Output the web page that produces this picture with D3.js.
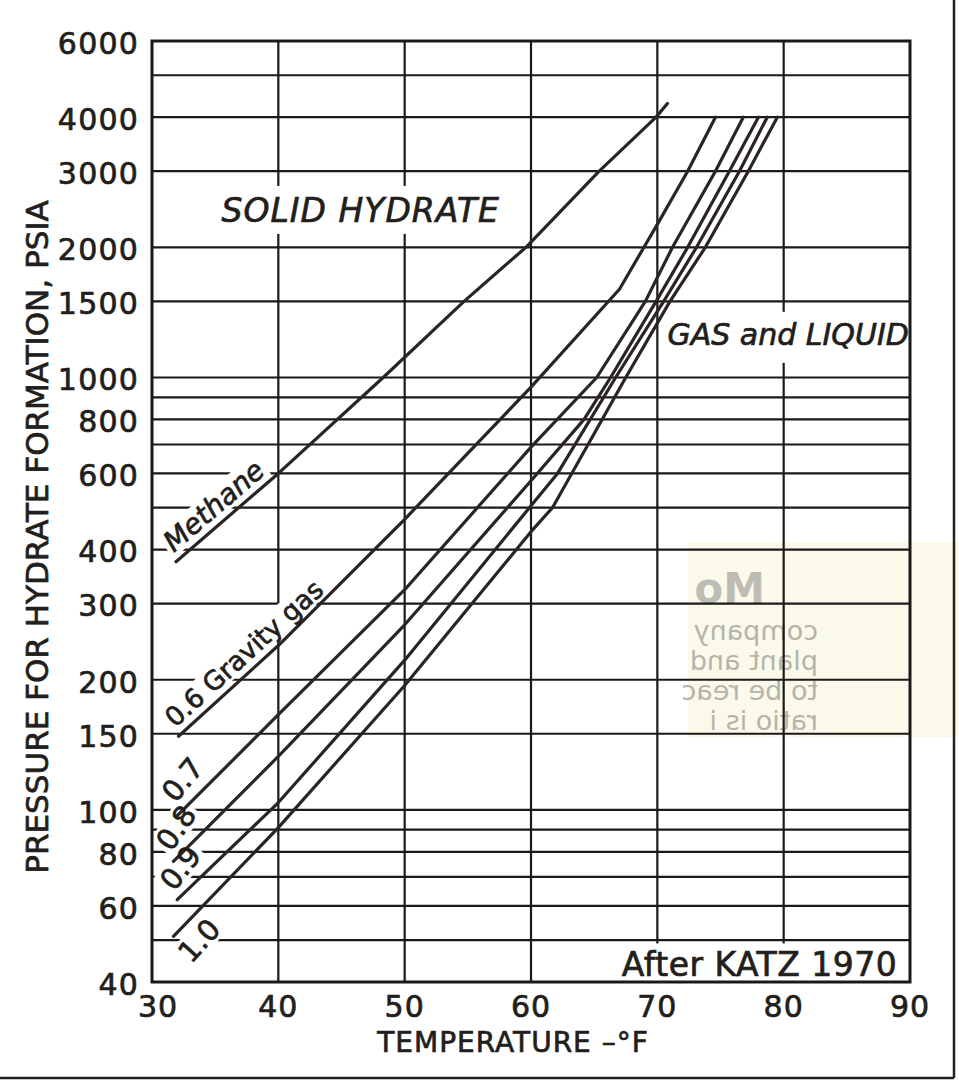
<!DOCTYPE html>
<html>
<head>
<meta charset="utf-8">
<script src="https://cdn.jsdelivr.net/npm/d3@7"></script>
<style>
  body { margin: 0; background: #fff; }
  svg { display: block; }
  text { font-family: "DejaVu Sans", sans-serif; fill: #221e1b; stroke: #221e1b; stroke-width: 0.7px; }
  text.bleed { stroke: none; }
</style>
</head>
<body>
<div id="chart"></div>
<script>
// axis ticks and grid
const tempTicks = [30, 40, 50, 60, 70, 80, 90];
const tempGrid = [40, 50, 60, 70, 80];
const pressTicks = [6000, 4000, 3000, 2000, 1500, 1000, 800, 600, 400, 300, 200, 150, 100, 80, 60, 40];
const pressGrid = [5000, 4000, 3000, 2000, 1500, 1000, 900, 800, 700, 600, 500, 400, 300, 200, 150, 100, 90, 80, 70, 60, 50];

// hydrate curves, [temperature F, pressure psia]
const methane = [[31.9, 375], [40, 600], [48.3, 1000], [54.7, 1500], [59.6, 2000], [65.4, 3000], [69.9, 4000], [70.8, 4300]];
const gas06 = [[32.1, 148], [40, 240], [50, 470], [60, 950], [67, 1600], [70, 2260], [72.4, 3000], [74.6, 4000]];
const gas07 = [[32, 97], [40, 166], [50, 323], [60, 690], [65.2, 1000], [69.05, 1500], [71.2, 2000], [74.6, 3000], [76.8, 4000]];
const gas08 = [[31.7, 76], [40, 133], [50, 268], [60, 577], [64.2, 800], [66.3, 1000], [69.9, 1500], [72.4, 2000], [75.7, 3000], [78, 4000]];
const gas09 = [[32, 62], [40, 104], [50, 222], [60, 505], [62.1, 600], [66.7, 1000], [70.5, 1500], [73.1, 2000], [76.5, 3000], [78.7, 4000]];
const gas10 = [[31.7, 51], [40, 91], [50, 194], [60, 440], [61.7, 500], [67.5, 1000], [71.0, 1500], [73.8, 2000], [77.2, 3000], [79.5, 4000]];

const curves = [methane, gas06, gas07, gas08, gas09, gas10];
const curveLabels = ["Methane", "0.6 Gravity gas", "0.7", "0.8", "0.9", "1.0"];

// region notes placed in data coords
const notes = [
  { text: "SOLID HYDRATE", t: 35.5, p: 2290, anchor: "start", italic: true },
  { text: "GAS and LIQUID", t: 70.8, p: 1190, anchor: "start", italic: true },
  { text: "After KATZ 1970", t: 89.0, p: 41.2, anchor: "end", italic: false }
];

// mirrored bleed-through from the back of the page
const bleedLines = ["company", "plant and", "to be reac", "ratio is i"];

const W = 959, H = 1082;
const svg = d3.select("#chart").append("svg").attr("width", W).attr("height", H);

const x = d3.scaleLinear().domain([30, 90]).range([152, 910]);
const y = d3.scaleLog().domain([40, 6000]).range([982, 41]);

// faint yellow patch + mirrored text showing through the paper
svg.append("rect").attr("x", 688).attr("y", 542).attr("width", 271).attr("height", 195).attr("fill", "#fbfaea");
svg.append("text").attr("class", "bleed").attr("transform", "translate(765,603) scale(-1,1)")
  .attr("font-family", "Liberation Serif, serif").attr("font-weight", "bold")
  .attr("font-size", 42).style("fill", "#bdbdb4").text("Mo");
svg.selectAll(".bline").data(bleedLines).enter().append("text")
  .attr("class", "bleed")
  .attr("transform", (d, i) => `translate(818,${640 + i * 30}) scale(-1,1)`)
  .attr("font-family", "Liberation Serif, serif")
  .attr("font-size", 27).style("fill", "#b4b4ab").text(d => d);

// grid
const grid = svg.append("g").attr("stroke", "#1c1a18").attr("stroke-width", 2.2);
grid.selectAll(".h").data(pressGrid).enter().append("line")
  .attr("x1", x(30)).attr("x2", x(90)).attr("y1", d => y(d)).attr("y2", d => y(d));
grid.selectAll(".v").data(tempGrid).enter().append("line")
  .attr("x1", d => x(d)).attr("x2", d => x(d)).attr("y1", y(6000)).attr("y2", y(40));

const bgLayer = svg.append("g");
const curveLayer = svg.append("g");
const frameLayer = svg.append("g");
const textLayer = svg.append("g");

function knockout(textSel, padX, padTop, padBottom) {
  const b = textSel.node().getBBox();
  return { x: b.x - padX, y: b.y - padTop, w: b.width + 2 * padX, h: b.height + padTop + padBottom };
}

// curves
const line = d3.line().x(d => x(d[0])).y(d => y(d[1]));
curveLayer.selectAll("path").data(curves).enter().append("path")
  .attr("d", line)
  .attr("fill", "none")
  .attr("stroke", "#2a2522")
  .attr("stroke-width", 3.2)
  .attr("stroke-linejoin", "round")
  .attr("stroke-linecap", "round");

// curve labels along the start of each line
const labelStyle = [
  { along: 4, gap: 8, size: 28, angle: null, italic: true },
  { along: 3, gap: 8, size: 26.5, angle: null, italic: false },
  { along: 8, gap: 9, size: 29, angle: -50, italic: false },
  { along: 6, gap: 7, size: 29, angle: -55, italic: false },
  { along: 4, gap: 7, size: 29, angle: -52, italic: false },
  { along: -9, gap: -32, size: 29, angle: -48, italic: false }
];

curves.forEach((c, i) => {
  const p0 = [x(c[0][0]), y(c[0][1])];
  const p1 = [x(c[1][0]), y(c[1][1])];
  const st = labelStyle[i];
  const ang = st.angle !== null ? st.angle : Math.atan2(p1[1] - p0[1], p1[0] - p0[0]) * 180 / Math.PI;
  const tf = `translate(${p0[0]},${p0[1]}) rotate(${ang})`;
  const g = textLayer.append("g").attr("transform", tf);
  const t = g.append("text").attr("x", st.along).attr("y", -st.gap)
    .attr("font-size", st.size)
    .attr("font-style", st.italic ? "italic" : "normal")
    .text(curveLabels[i]);
  const k = knockout(t, 3, -2, -3);
  // background goes under the curves, in the same rotated frame
  bgLayer.append("rect").attr("transform", tf)
    .attr("x", k.x).attr("y", k.y).attr("width", k.w).attr("height", k.h)
    .attr("fill", "#fff");
});

// region notes
const noteSize = [33, 30, 33];
const noteSpacing = [1, 0, 0.5];
const notePad = [[6, 5, 4], [6, 5, 11], [12, 2, 6]];
notes.forEach((n, i) => {
  const t = textLayer.append("text")
    .attr("x", x(n.t)).attr("y", y(n.p))
    .attr("text-anchor", n.anchor)
    .attr("font-size", noteSize[i])
    .attr("letter-spacing", noteSpacing[i])
    .attr("font-style", n.italic ? "italic" : "normal")
    .text(n.text);
  const k = knockout(t, notePad[i][0], notePad[i][1], notePad[i][2]);
  bgLayer.append("rect").attr("x", k.x).attr("y", k.y).attr("width", k.w).attr("height", k.h).attr("fill", "#fff");
});

// plot frame
frameLayer.append("rect")
  .attr("x", x(30)).attr("y", y(6000))
  .attr("width", x(90) - x(30)).attr("height", y(40) - y(6000))
  .attr("fill", "none").attr("stroke", "#1c1a18").attr("stroke-width", 3);

// tick labels
svg.append("g").selectAll("text").data(pressTicks).enter().append("text")
  .attr("x", 139).attr("y", d => y(d) + 2)
  .attr("dy", "0.36em")
  .attr("text-anchor", "end")
  .attr("font-size", 30)
  .attr("letter-spacing", 1.2)
  .text(d => d);

svg.append("g").selectAll("text").data(tempTicks).enter().append("text")
  .attr("x", d => x(d) + (d === 30 ? 6 : 0)).attr("y", 1017)
  .attr("text-anchor", "middle")
  .attr("font-size", 30)
  .attr("letter-spacing", 1)
  .text(d => d);

// axis titles
svg.append("text")
  .attr("transform", "translate(48,537) rotate(-90)")
  .attr("text-anchor", "middle")
  .attr("font-size", 31)
  .text("PRESSURE FOR HYDRATE FORMATION, PSIA");

svg.append("text")
  .attr("x", 513).attr("y", 1052)
  .attr("text-anchor", "middle")
  .attr("font-size", 28)
  .attr("letter-spacing", 1)
  .text("TEMPERATURE –°F");

// page border of the scan
svg.append("line").attr("x1", 954).attr("x2", 954).attr("y1", 0).attr("y2", 1078)
  .attr("stroke", "#222").attr("stroke-width", 2.5);
svg.append("line").attr("x1", 0).attr("x2", 954).attr("y1", 1078).attr("y2", 1078)
  .attr("stroke", "#222").attr("stroke-width", 2.5);
</script>
</body>
</html>
